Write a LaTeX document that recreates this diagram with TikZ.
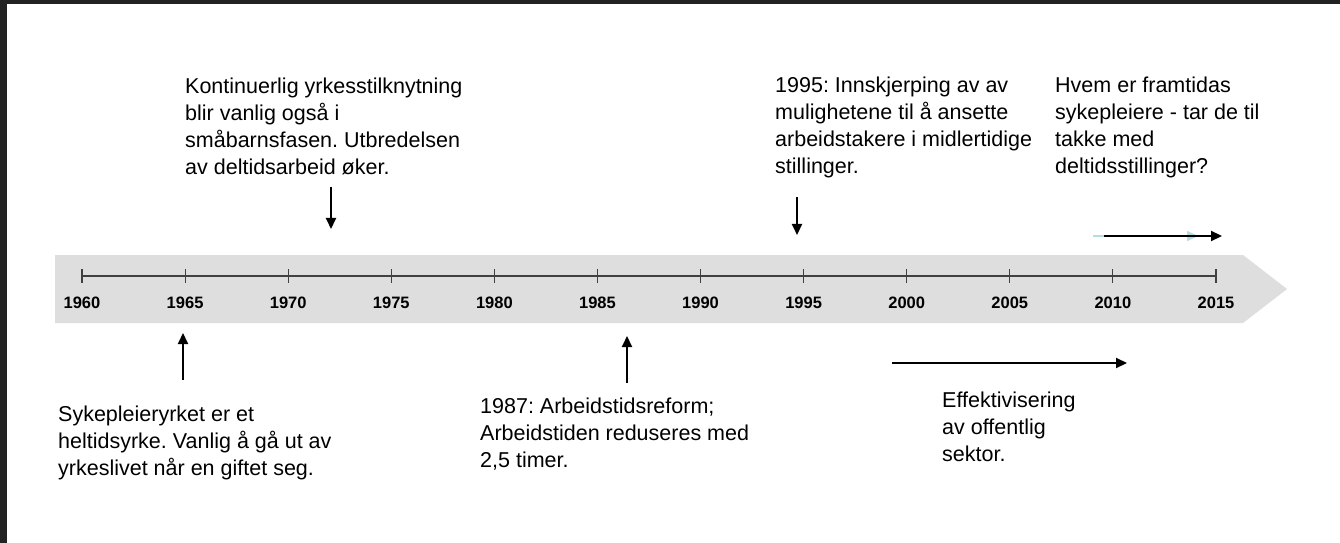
\documentclass[tikz,border=0pt]{standalone}
\usepackage{fontspec}
\setmainfont{Liberation Sans}
\usetikzlibrary{arrows.meta}
\frenchspacing
\definecolor{frame}{HTML}{222222}
\definecolor{band}{HTML}{DEDEDE}
\definecolor{axis}{HTML}{404040}
\definecolor{ghost}{HTML}{B4DDE2}
\begin{document}
\begin{tikzpicture}[x=1bp,y=-1bp,
  note/.style={anchor=north west,inner sep=0pt,align=left,
    font=\fontsize{21.5bp}{27bp}\selectfont},
  year/.style={inner sep=0pt,font=\fontsize{16.5bp}{16.5bp}\selectfont\bfseries},
  pointer/.style={line width=2bp,-{Triangle[length=11bp,width=10bp]}}]
\useasboundingbox (0,0) rectangle (1340,543);
\fill[white] (0,0) rectangle (1340,543);
\fill[frame] (0,0) rectangle (7,543);
\fill[frame] (0,0) rectangle (1340,4);
% band
\fill[band] (55,255) -- (1243,255) -- (1287,289) -- (1243,323) -- (55,323) -- cycle;
% axis
\coordinate (a0) at (82,276);
\coordinate (a1) at (1216,276);
\draw[axis,line width=1.3bp] (a0) -- (a1);
\foreach \i/\y in {0/1960,1/1965,2/1970,3/1975,4/1980,5/1985,6/1990,7/1995,8/2000,9/2005,10/2010,11/2015}{
  \draw[axis,line width=1.1bp] ({82+103.09*\i},269) -- ({82+103.09*\i},283);
  \node[year] (y\y) at ({82+103.09*\i},303) {\y};
}
% texts
\node[note] (t1) at (185,77.5) {Kontinuerlig yrkesstilknytning\\blir vanlig også i\\småbarnsfasen. Utbredelsen\\av deltidsarbeid øker.};
\node[note] (t2) at (775,76.5) {1995: Innskjerping av av\\mulighetene til å ansette\\arbeidstakere i midlertidige\\stillinger.};
\node[note] (t3) at (1055,76.5) {Hvem er framtidas\\sykepleiere - tar de til\\takke med\\deltidsstillinger?};
\node[note] (b1) at (58,405.5) {Sykepleieryrket er et\\heltidsyrke. Vanlig å gå ut av\\yrkeslivet når en giftet seg.};
\node[note] (b2) at (480,397.5) {1987: Arbeidstidsreform;\\Arbeidstiden reduseres med\\2,5 timer.};
\node[note] (b3) at (942,391.5) {Effektivisering\\av offentlig\\sektor.};
% arrows
\coordinate (p1s) at (331,187); \coordinate (p1e) at (331,229);
\coordinate (p2s) at (797,197); \coordinate (p2e) at (797,235);
\coordinate (q1s) at (183,380); \coordinate (q1e) at (183,333);
\coordinate (q2s) at (627,383); \coordinate (q2e) at (627,336);
\coordinate (h1s) at (892,363); \coordinate (h1e) at (1127,363);
\coordinate (g1s) at (1093,236); \coordinate (g1e) at (1198,236);
\coordinate (h2s) at (1104,236); \coordinate (h2e) at (1222,236);
\draw[pointer] (p1s) -- (p1e);
\draw[pointer] (p2s) -- (p2e);
\draw[pointer] (q1s) -- (q1e);
\draw[pointer] (q2s) -- (q2e);
\draw[pointer] (h1s) -- (h1e);
\draw[pointer,ghost] (g1s) -- (g1e);
\draw[pointer] (h2s) -- (h2e);
\end{tikzpicture}
\end{document}
